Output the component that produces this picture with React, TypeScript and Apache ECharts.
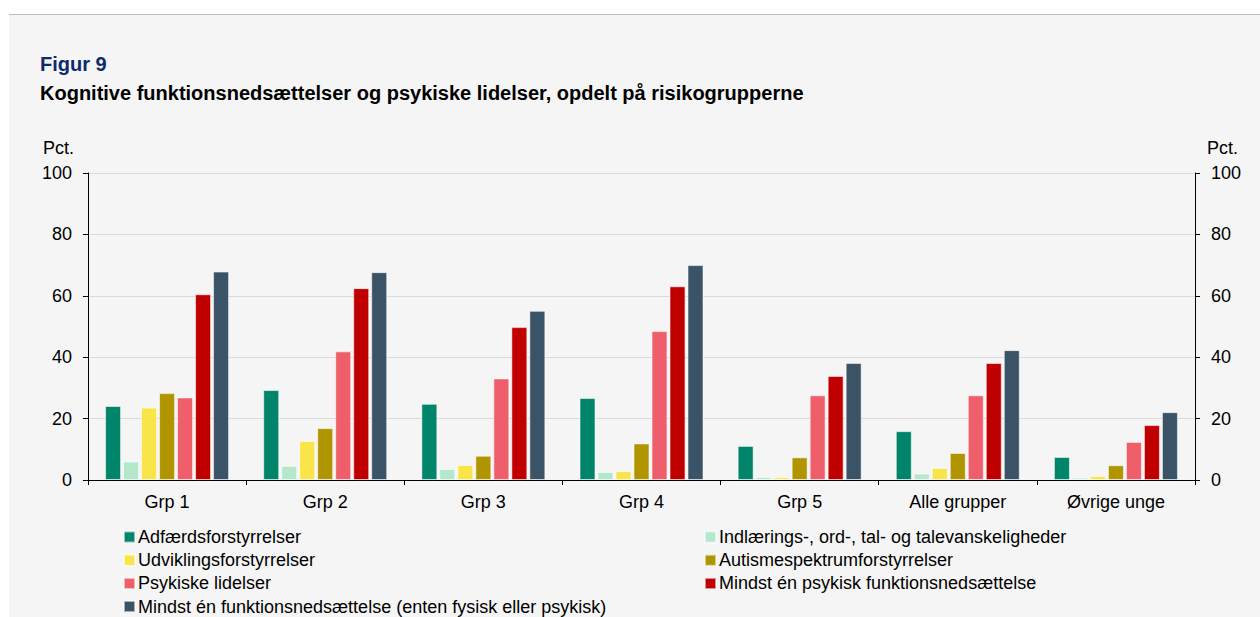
import React, { useEffect, useRef } from "react";
import * as echarts from "echarts";

const categories = ["Grp 1", "Grp 2", "Grp 3", "Grp 4", "Grp 5", "Alle grupper", "Øvrige unge"];

const seriesNames = [
  "Adfærdsforstyrrelser",
  "Indlærings-, ord-, tal- og talevanskeligheder",
  "Udviklingsforstyrrelser",
  "Autismespektrumforstyrrelser",
  "Psykiske lidelser",
  "Mindst én psykisk funktionsnedsættelse",
  "Mindst én funktionsnedsættelse (enten fysisk eller psykisk)",
];

const adfaerd = [24.1, 29.3, 24.8, 26.7, 11.1, 15.9, 7.5];
const indlaering = [6.0, 4.6, 3.6, 2.6, 1.0, 2.1, 0.8];
const udvikling = [23.6, 12.7, 4.9, 2.9, 0.9, 3.9, 1.3];
const autisme = [28.3, 16.9, 7.9, 11.9, 7.4, 8.8, 4.8];
const psykiske = [26.9, 41.9, 33.1, 48.5, 27.6, 27.6, 12.4];
const mindstPsykisk = [60.5, 62.5, 49.8, 63.1, 33.9, 38.1, 17.9];
const mindstEn = [67.9, 67.7, 55.1, 70.0, 38.1, 42.3, 22.1];

const seriesValues = [adfaerd, indlaering, udvikling, autisme, psykiske, mindstPsykisk, mindstEn];
const colors = ["#00856a", "#b3e8cd", "#f9e54a", "#b09500", "#ef5f6b", "#c00000", "#3b5366"];

const yTicks = { min: 0, max: 100, interval: 20 };

const FONT = "'Liberation Sans', Arial, sans-serif";

export default function App() {
  const ref = useRef<HTMLDivElement>(null);
  useEffect(() => {
    if (!ref.current) return;
    const chart = echarts.init(ref.current, undefined, { renderer: "svg" });
    const yAxisBase = {
      type: "value",
      min: yTicks.min,
      max: yTicks.max,
      interval: yTicks.interval,
      axisLine: { show: true, lineStyle: { color: "#000", width: 1 } },
      axisTick: { show: true, length: 5, lineStyle: { color: "#000" } },
      axisLabel: { color: "#000", fontSize: 18, fontFamily: FONT, margin: 16 },
    };
    const legendBase = {
      orient: "vertical",
      top: 528,
      height: 89,
      padding: 0,
      itemWidth: 11,
      itemHeight: 11,
      itemGap: 5.2,
      icon: "rect",
      textStyle: { fontSize: 18, fontFamily: FONT, color: "#000", lineHeight: 18, padding: [0, 0, 0, -2] },
    };
    chart.setOption({
      animation: false,
      backgroundColor: "#ffffff",
      textStyle: { fontFamily: FONT },
      graphic: [
        { type: "rect", shape: { x: 9, y: 15, width: 1251, height: 602 }, style: { fill: "#f5f5f5" }, z: -10 },
        { type: "line", shape: { x1: 9, y1: 14.5, x2: 1260, y2: 14.5 }, style: { stroke: "#bdbdbd", lineWidth: 1 }, z: -9 },
        { type: "text", x: 40, y: 64, style: { text: "Figur 9", fill: "#0d2a6b", font: `bold 20px ${FONT}`, textVerticalAlign: "middle" } },
        { type: "text", x: 40, y: 93, style: { text: "Kognitive funktionsnedsættelser og psykiske lidelser, opdelt på risikogrupperne", fill: "#000", font: `bold 20px ${FONT}`, textVerticalAlign: "middle" } },
        { type: "text", x: 43, y: 148, style: { text: "Pct.", fill: "#000", font: `18px ${FONT}`, textVerticalAlign: "middle" } },
        { type: "text", x: 1207, y: 148, style: { text: "Pct.", fill: "#000", font: `18px ${FONT}`, textVerticalAlign: "middle" } },
      ],
      grid: { left: 88, right: 65, top: 173, bottom: 137, containLabel: false },
      xAxis: {
        type: "category",
        data: categories,
        axisLine: { lineStyle: { color: "#000", width: 1 } },
        axisTick: { show: true, length: 5, alignWithLabel: false, lineStyle: { color: "#000" } },
        axisLabel: { color: "#000", fontSize: 18, fontFamily: FONT, margin: 13 },
      },
      yAxis: [
        { ...yAxisBase, position: "left", splitLine: { show: true, lineStyle: { color: "#dadada", width: 1 } } },
        { ...yAxisBase, position: "right", splitLine: { show: false } },
      ],
      legend: [
        { ...legendBase, left: 123, data: [seriesNames[0], seriesNames[2], seriesNames[4], seriesNames[6]] },
        { ...legendBase, left: 704, data: [seriesNames[1], seriesNames[3], seriesNames[5]] },
      ],
      series: seriesNames.map((name, i) => ({
        name,
        type: "bar",
        data: seriesValues[i],
        barWidth: 16,
        barGap: "12.5%",
        itemStyle: { color: colors[i], borderColor: "rgba(255,255,255,0.55)", borderWidth: 1 },
      })),
    });
    return () => chart.dispose();
  }, []);
  return <div ref={ref} style={{ position: "fixed", left: 0, top: 0, width: 1260, height: 617 }} />;
}
